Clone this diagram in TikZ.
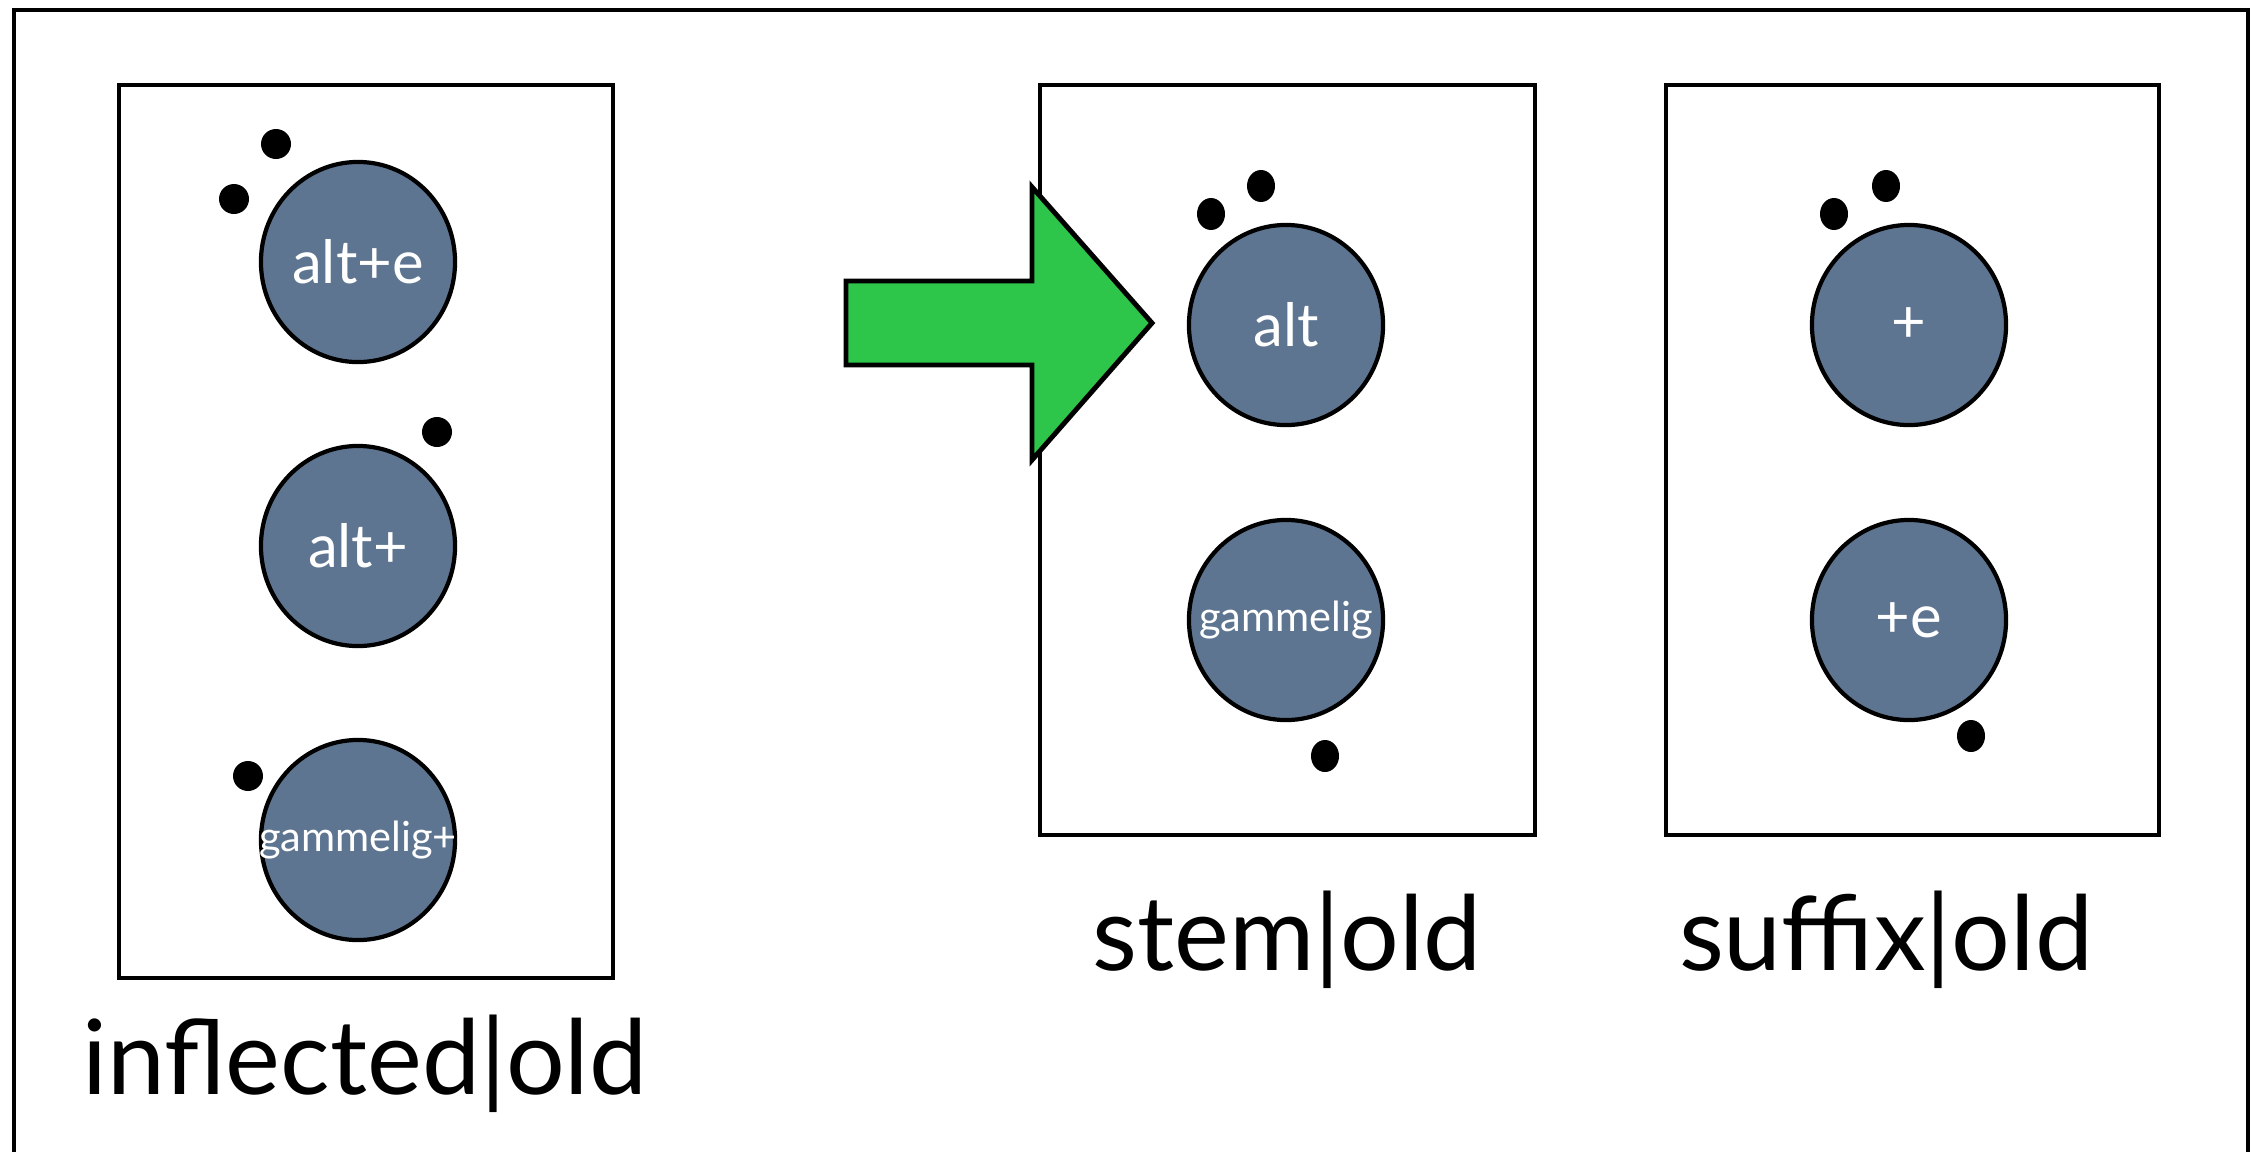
\documentclass[tikz,border=0pt]{standalone}
\usepackage{fontspec}
\setmainfont{Lato}
\usetikzlibrary{shapes.geometric}

\definecolor{morphblue}{RGB}{94,117,145}
\definecolor{arrowgreen}{RGB}{45,197,74}

\tikzset{
  frame/.style={draw, line width=1.4pt},
  panel/.style={draw, line width=1.3pt},
  morph/.style={ellipse, draw, line width=1.2pt, fill=morphblue,
    inner sep=0pt, minimum width=19.4mm, minimum height=20mm},
  morphtext/.style={text=white, inner sep=0pt, font=\fontsize{17}{18}\selectfont},
  smalltext/.style={morphtext, font=\fontsize{11.8}{13}\selectfont},
  caption/.style={anchor=base, inner sep=0pt, font=\fontsize{29.5}{34}\selectfont},
  dot/.style={fill=black}
}

\begin{document}
\begin{tikzpicture}[x=0.01cm, y=-0.01cm]
  \useasboundingbox (0,0) rectangle (2263,1151);

  % Outer frame (bottom edge runs off the page)
  \draw[frame] (14,10) rectangle (2248,1170);

  % Three panels
  \draw[panel] (119,85) rectangle (613,978);
  \draw[panel] (1040,85) rectangle (1535,835);
  \draw[panel] (1666,85) rectangle (2159,835);

  % Panel inflected|old
  \node[morph, label={[morphtext]center:alt+e}] (altE) at (358,262) {};
  \node[morph, label={[morphtext]center:alt+}] (altP) at (358,546) {};
  \node[morph, label={[smalltext]center:gammelig+}] (gamP) at (358,840) {};
  \fill[dot] (276,144) ellipse (15 and 15);
  \fill[dot] (234,199) ellipse (15 and 15);
  \fill[dot] (437,432) ellipse (15 and 15);
  \fill[dot] (248,776) ellipse (15 and 15);

  % Panel stem|old
  \node[morph, label={[morphtext]center:alt}] (alt) at (1286,325) {};
  \node[morph, label={[smalltext]center:gammelig}] (gam) at (1286,620) {};
  \fill[dot] (1211,214) ellipse (14 and 16);
  \fill[dot] (1261,186) ellipse (14 and 16);
  \fill[dot] (1325,756) ellipse (14 and 16);

  % Panel suffix|old
  \node[morph, label={[morphtext]center:+}] (plus) at (1909,325) {};
  \node[morph, label={[morphtext]center:+e}] (plusE) at (1909,620) {};
  \fill[dot] (1834,214) ellipse (14 and 16);
  \fill[dot] (1886,186) ellipse (14 and 16);
  \fill[dot] (1971,736) ellipse (14 and 16);

  % Big green arrow
  \coordinate (tail) at (846,323);
  \coordinate (tip) at (1152,323);
  \draw[fill=arrowgreen, line width=1.4pt, line join=miter]
    (846,281) -- (1032,281) -- (1032,187) -- (tip) -- (1032,460)
    -- (1032,365) -- (846,365) -- cycle;

  % Captions
  \node[caption] (inflCap) at (365,1094) {inflected|old};
  \node[caption] (stemCap) at (1287,970) {stem|old};
  \node[caption] (suffCap) at (1886,970) {suffix|old};
\end{tikzpicture}
\end{document}
